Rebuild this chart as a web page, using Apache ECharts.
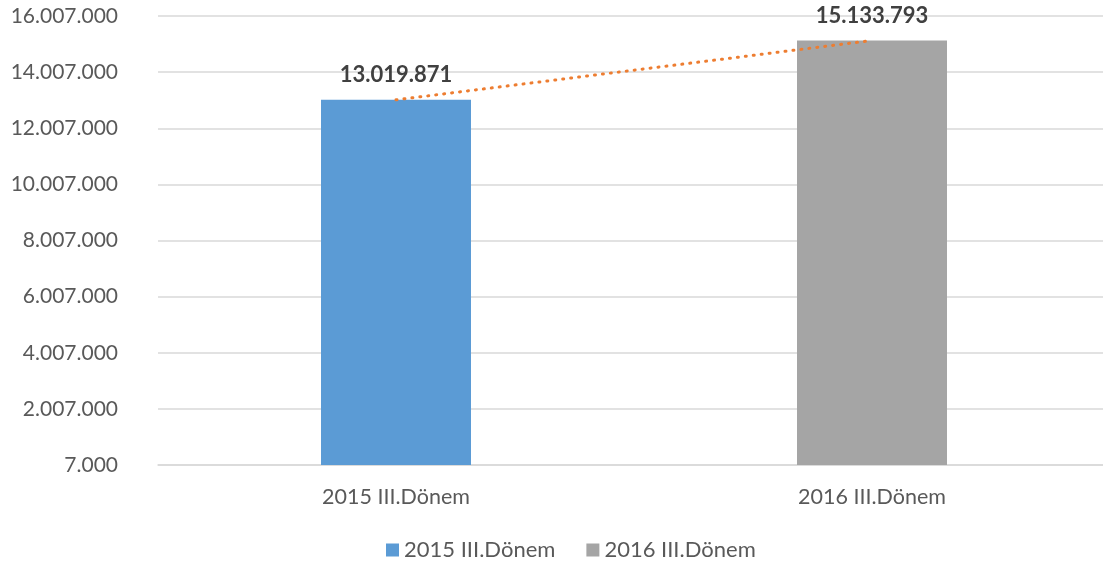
<!DOCTYPE html>
<html>
<head>
<meta charset="utf-8">
<script src="https://cdn.jsdelivr.net/npm/echarts@6/dist/echarts.min.js"></script>
<style>
html,body{margin:0;padding:0;background:#fff;overflow:hidden;}
#c{width:1110px;height:566px;}
</style>
</head>
<body>
<div id="c"></div>
<script>
// Data
const categories = ['2015 III.Dönem', '2016 III.Dönem'];
const seriesNames = ['2015 III.Dönem', '2016 III.Dönem'];
const values = [13019871, 15133793];
// Axis: starts at 7.000, steps of 2.000.000 up to 16.007.000
const axisBase = 7000;
const axisSpan = 16000000;
const axisStep = 2000000;

function fmt(n) {
  return String(Math.round(n)).replace(/\B(?=(\d{3})+(?!\d))/g, '.');
}

const FONT = 'Lato, "Open Sans", sans-serif';
const chart = echarts.init(document.getElementById('c'), null, {renderer: 'canvas'});

const barColors = ['#5B9BD5', '#A5A5A5'];
const barSeries = seriesNames.map((name, i) => ({
  name: name,
  type: 'bar',
  stack: 'bars',
  barWidth: 150,
  itemStyle: {color: barColors[i]},
  data: categories.map((c, j) => j === i ? values[j] - axisBase : '-'),
  label: {
    show: true,
    position: 'top',
    distance: 14,
    fontFamily: FONT,
    fontSize: 22,
    fontWeight: 'bold',
    color: '#404040',
    formatter: (p) => fmt(values[p.dataIndex])
  },
  z: 2
}));

const option = {
  animation: false,
  backgroundColor: '#fff',
  grid: {left: 158, top: 16, right: 0, height: 449, containLabel: false},
  legend: {
    bottom: 0,
    left: 381,
    data: seriesNames,
    icon: 'rect',
    itemWidth: 13,
    itemHeight: 13,
    itemGap: 31,
    textStyle: {fontFamily: FONT, fontSize: 22, color: '#595959'}
  },
  xAxis: {
    type: 'category',
    data: categories,
    axisLine: {show: true, lineStyle: {color: '#D9D9D9', width: 1.5}},
    axisTick: {show: false},
    axisLabel: {fontFamily: FONT, fontSize: 21.5, color: '#595959', margin: 21}
  },
  yAxis: {
    type: 'value',
    min: 0,
    max: axisSpan,
    interval: axisStep,
    axisLine: {show: false},
    axisTick: {show: false},
    splitLine: {lineStyle: {color: '#D9D9D9', width: 1.5}},
    axisLabel: {
      fontFamily: FONT, fontSize: 21, color: '#595959', margin: 40,
      formatter: (v) => fmt(v + axisBase)
    }
  },
  series: barSeries.concat([{
    name: 'trend',
    type: 'line',
    data: values.map(v => v - axisBase),
    symbol: 'none',
    silent: true,
    lineStyle: {color: '#ED7D31', width: 3, type: [1, 7], cap: 'round'},
    z: 5
  }])
};
chart.setOption(option);
</script>
</body>
</html>
